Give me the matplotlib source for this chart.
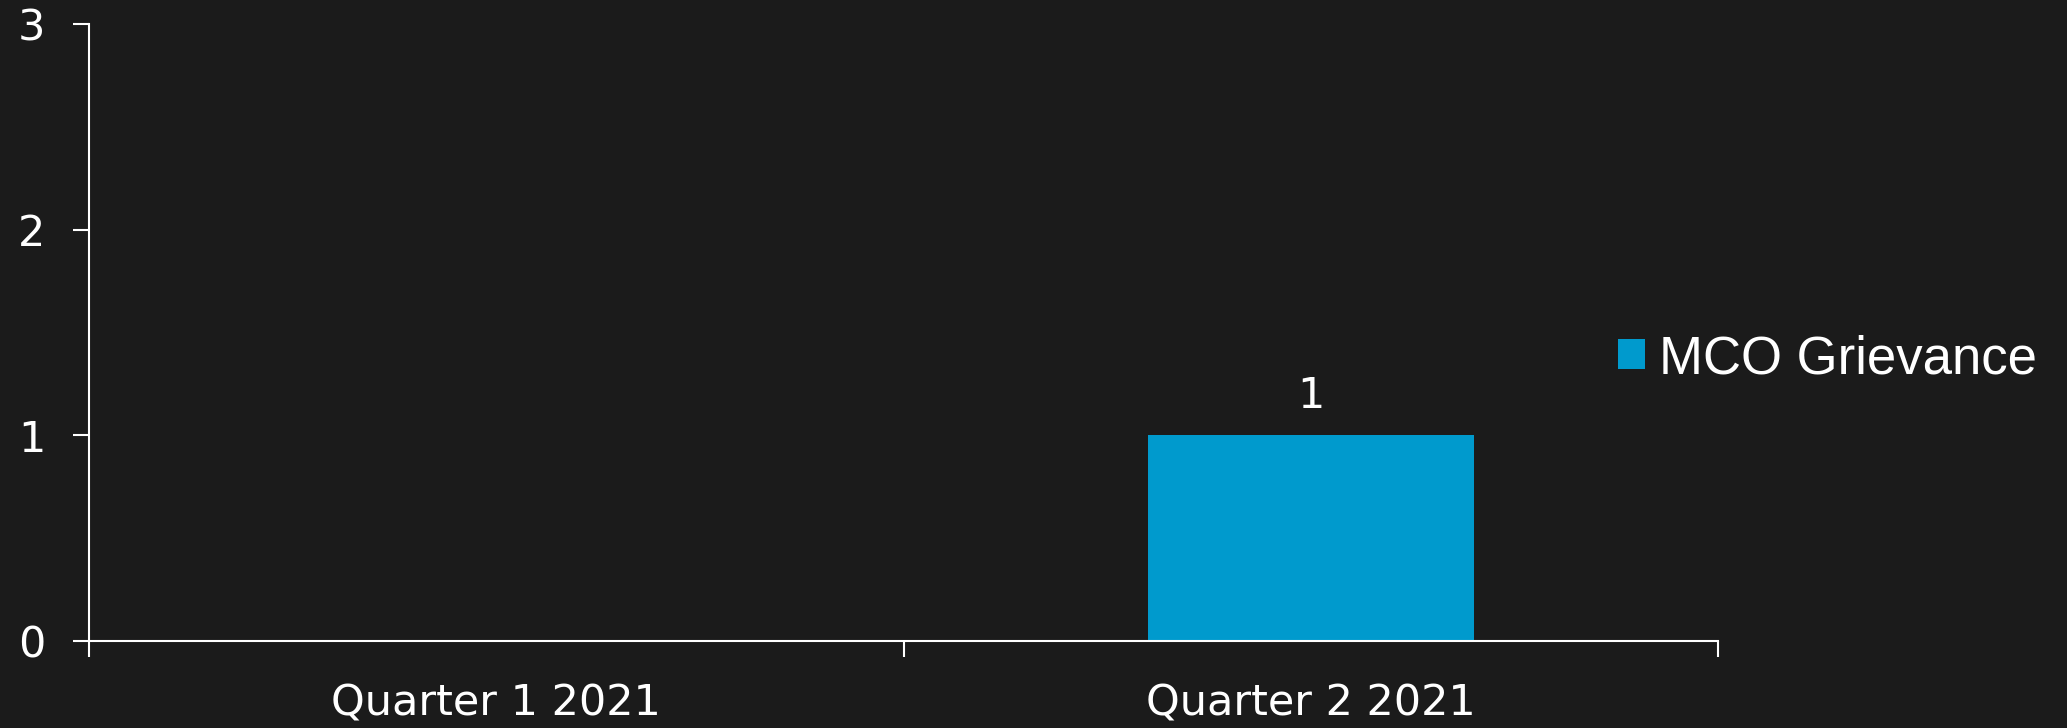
import matplotlib.pyplot as plt
import numpy as np

# Grievance counts per quarter
quarters = ['Quarter 1 2021', 'Quarter 2 2021']
grievances = [0, 1]
series_name = 'MCO Grievance'

bg = '#1b1b1b'
bar_color = '#009acd'
tick_font = 'DejaVu Sans'

fig = plt.figure(figsize=(20.67, 7.28), dpi=100, facecolor=bg)
ax = fig.add_axes([89 / 2067, 1 - 641 / 728, (1718 - 89) / 2067, (641 - 24) / 728])
ax.set_facecolor(bg)

x = np.arange(len(quarters))
bars = ax.bar(x, grievances, width=0.4, color=bar_color, label=series_name, zorder=2)

# value label only above non-zero bars
for xi, v in zip(x, grievances):
    if v:
        ax.text(xi, v + 0.09, str(v), ha='center', va='bottom', color='white',
                fontsize=31, family=tick_font)

ax.set_xlim(-0.5, len(quarters) - 0.5)
ax.set_ylim(0, 3)
ax.set_yticks([0, 1, 2, 3])

# category labels centred, ticks on the category boundaries
ax.set_xticks(x)
ax.set_xticklabels(quarters)
ax.set_xticks(np.arange(-0.5, len(quarters), 1), minor=True)
ax.tick_params(axis='x', which='major', length=0, pad=30, labelsize=31,
               labelcolor='white')
ax.tick_params(axis='x', which='minor', length=11.5, width=1.5, color='white',
               direction='out')
ax.tick_params(axis='y', length=11.5, width=1.5, color='white', pad=20,
               labelsize=31, labelcolor='white')
for lbl in ax.get_xticklabels() + ax.get_yticklabels():
    lbl.set_family(tick_font)

for side in ['top', 'right']:
    ax.spines[side].set_visible(False)
for side in ['left', 'bottom']:
    ax.spines[side].set_color('white')
    ax.spines[side].set_linewidth(1.5)

leg = fig.legend(loc='center left', bbox_to_anchor=(1597 / 2067, 1 - 359 / 728),
                 frameon=False, handlelength=0.5, handleheight=0.5,
                 handletextpad=0.27, borderaxespad=0,
                 prop={'family': 'Liberation Sans', 'size': 38})
for t in leg.get_texts():
    t.set_color('white')

fig.savefig('out.png', facecolor=bg)
